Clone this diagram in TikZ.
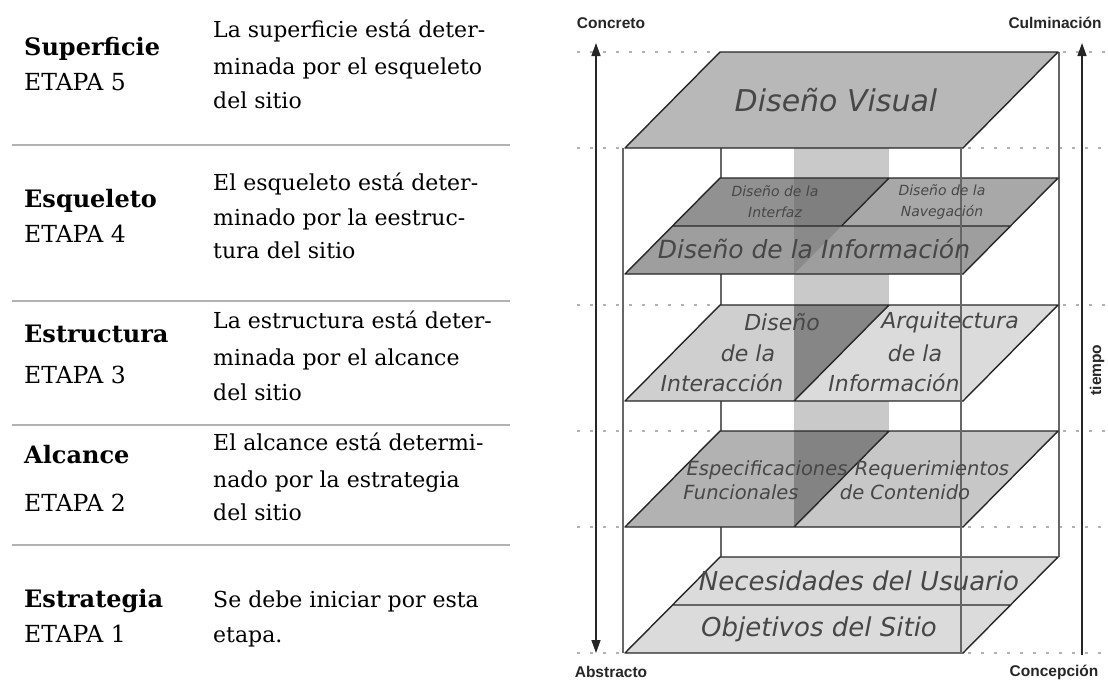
\documentclass[tikz,border=0pt]{standalone}
\usepackage{fontspec}
\setmainfont{DejaVu Serif}
\newfontfamily\diagsf{Liberation Sans}
\newfontfamily\planesf{DejaVu Sans}
\usetikzlibrary{arrows.meta}
\definecolor{visual}{gray}{0.72}
\definecolor{interfaz}{gray}{0.57}
\definecolor{navega}{gray}{0.66}
\definecolor{informa}{gray}{0.62}
\definecolor{interac}{gray}{0.81}
\definecolor{arquit}{gray}{0.86}
\definecolor{especif}{gray}{0.70}
\definecolor{requer}{gray}{0.78}
\definecolor{estrat}{gray}{0.86}
\definecolor{columna}{gray}{0.79}
\tikzset{
  sepline/.style={draw=black!30, line width=1.6pt},
  stagename/.style={font=\fontsize{24}{24}\selectfont\bfseries, anchor=base west, inner sep=0},
  stagenum/.style={font=\fontsize{23.5}{23.5}\selectfont, anchor=base west, inner sep=0},
  stagetext/.style={font=\fontsize{22}{22}\selectfont, anchor=base west, inner sep=0},
  level/.style={draw=black!85, line width=1.4pt, line join=round},
  frame/.style={draw=black!60, line width=1.3pt},
  guide/.style={draw=black!30, line width=2.6pt, dash pattern=on 2.6pt off 10.4pt},
  axis/.style={draw=black!85, line width=1.4pt, >={Triangle[width=9pt,length=13pt]}},
  axislabel/.style={font=\diagsf\bfseries\fontsize{15.5}{15.5}\selectfont, text=black!85, inner sep=0},
  planetext/.style={font=\planesf\itshape, text=black!72, inner sep=0}
}
\begin{document}
\begin{tikzpicture}[x=1pt,y=-1pt]
  \useasboundingbox (0,0) rectangle (1108,680);

  % etapas
  \foreach \y/\n/\e/\k in {55/Superficie/90/5, 207/Esqueleto/242/4, 342/Estructura/383/3, 463/Alcance/511/2, 607/Estrategia/642/1} {
    \node[stagename] (name\k) at (24,\y) {\n};
    \node[stagenum] (num\k) at (24,\e) {ETAPA \k};
  }
  \foreach \y/\t in {37/La superficie está deter-, 74/minada por el esqueleto, 108/del sitio,
                     190/El esqueleto está deter-, 225/minado por la eestruc-, 258/tura del sitio,
                     328/La estructura está deter-, 365/minada por el alcance, 400/del sitio,
                     450/El alcance está determi-, 487/nado por la estrategia, 520/del sitio,
                     607/Se debe iniciar por esta, 642/etapa.}
    \node[stagetext] (txt\y) at (213,\y) {\t};
  \foreach \y in {145,301,425,545}
    \draw[sepline] (12,\y) -- (510,\y);

  % guias punteadas
  \foreach \y/\a/\b in {52/715/1063, 148/620/968, 305/715/1063, 431/715/1063, 527/620/968, 653/620/968} {
    \draw[guide] (577,\y) -- (\a,\y);
    \draw[guide] (\b,\y) -- (1108,\y);
  }

  \draw[frame] (721,52) -- (721,557);
  \draw[frame] (1059,52) -- (1059,557);
  \fill[columna] (794,148) rectangle (889,527);

  % superficie
  \filldraw[level, fill=visual] (720,52) -- (1058,52) -- (963,148) -- (625,148) -- cycle;
  % esqueleto
  \fill[interfaz] (720,178) -- (889,178) -- (841.5,226) -- (672.5,226) -- cycle;
  \fill[navega] (889,178) -- (1058,178) -- (1010.5,226) -- (841.5,226) -- cycle;
  \fill[informa] (672.5,226) -- (1010.5,226) -- (963,274) -- (625,274) -- cycle;
  \fill[black, fill opacity=.12] (794,178) -- (889,178) -- (794,274) -- cycle;
  \draw[level] (720,178) -- (1058,178) -- (963,274) -- (625,274) -- cycle
               (672.5,226) -- (1010.5,226) (889,178) -- (841.5,226);
  % estructura
  \fill[interac] (720,305) -- (889,305) -- (794,401) -- (625,401) -- cycle;
  \fill[arquit] (889,305) -- (1058,305) -- (963,401) -- (794,401) -- cycle;
  \fill[black, fill opacity=.35] (794,305) -- (889,305) -- (794,401) -- cycle;
  \draw[level] (720,305) -- (1058,305) -- (963,401) -- (625,401) -- cycle (889,305) -- (794,401);
  % alcance
  \fill[especif] (720,431) -- (889,431) -- (794,527) -- (625,527) -- cycle;
  \fill[requer] (889,431) -- (1058,431) -- (963,527) -- (794,527) -- cycle;
  \fill[black, fill opacity=.26] (794,431) -- (889,431) -- (794,527) -- cycle;
  \draw[level] (720,431) -- (1058,431) -- (963,527) -- (625,527) -- cycle (889,431) -- (794,527);
  % estrategia
  \filldraw[level, fill=estrat] (720,557) -- (1058,557) -- (963,653) -- (625,653) -- cycle
               (672.5,605) -- (1010.5,605);

  \draw[frame] (623,148) -- (623,653);
  \draw[frame] (961,148) -- (961,653);

  \node[planetext, font=\planesf\itshape\fontsize{30}{30}\selectfont] (visual) at (836,100) {Diseño Visual};
  \node[planetext, font=\planesf\itshape\fontsize{14}{21}\selectfont, align=center] (interfaz) at (775,202) {Diseño de la\\Interfaz};
  \node[planetext, font=\planesf\itshape\fontsize{14}{21}\selectfont, align=center] (navega) at (942,202) {Diseño de la\\Navegación};
  \node[planetext, font=\planesf\itshape\fontsize{25}{25}\selectfont] (informa) at (814,249) {Diseño de la Información};
  \foreach \x/\y/\t [count=\i] in {782/322/Diseño, 748/353/de la, 722/383/Interacción}
    \node[planetext, font=\planesf\itshape\fontsize{22}{22}\selectfont] (interac\i) at (\x,\y) {\t};
  \foreach \x/\y/\t [count=\i] in {950/322/Arquitectura, 915/353/de la, 894/383/Información}
    \node[planetext, font=\planesf\itshape\fontsize{22}{22}\selectfont] (arquit\i) at (\x,\y) {\t};
  \foreach \x/\y/\t [count=\i] in {767/470/Especificaciones, 741/492/Funcionales, 932/470/Requerimientos, 905/492/de Contenido}
    \node[planetext, font=\planesf\itshape\fontsize{19.5}{19.5}\selectfont] (alcance\i) at (\x,\y) {\t};
  \node[planetext, font=\planesf\itshape\fontsize{26}{26}\selectfont] (usuario) at (859,581) {Necesidades del Usuario};
  \node[planetext, font=\planesf\itshape\fontsize{26}{26}\selectfont] (objetivos) at (819,629) {Objetivos del Sitio};

  % ejes
  \node[axislabel] (concreto) at (611,23) {Concreto};
  \node[axislabel] (culmina) at (1055,23) {Culminación};
  \node[axislabel] (abstracto) at (611,672) {Abstracto};
  \node[axislabel] (concepcion) at (1054,672) {Concepción};
  \node[axislabel, rotate=90] (tiempo) at (1097,370) {tiempo};
  \coordinate (concreto-tip) at (596,43);
  \coordinate (abstracto-tip) at (596,653);
  \coordinate (culmina-tip) at (1082,43);
  \coordinate (concepcion-end) at (1082,655);
  \draw[axis,<->] (concreto-tip) -- (abstracto-tip);
  \draw[axis,->] (concepcion-end) -- (culmina-tip);
\end{tikzpicture}
\end{document}
